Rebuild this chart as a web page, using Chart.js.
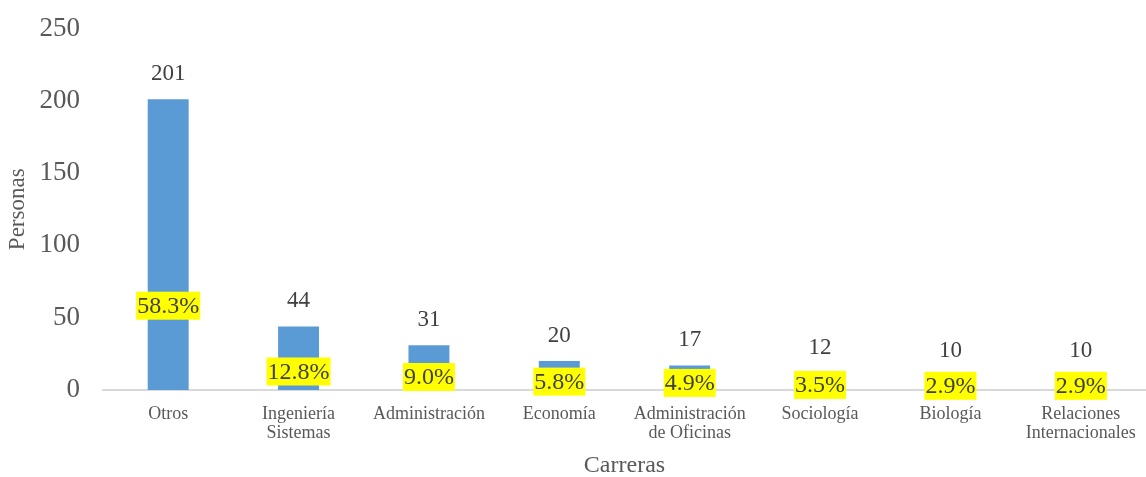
<!DOCTYPE html>
<html>
<head>
<meta charset="utf-8">
<script src="https://cdn.jsdelivr.net/npm/chart.js@4"></script>
<style>
  html, body { margin: 0; padding: 0; background: #fff; overflow: hidden; }
  #wrap { width: 1146px; height: 477px; }
</style>
</head>
<body>
<div id="wrap"><canvas id="chart"></canvas></div>
<script>
const carreras = ["Otros", ["Ingeniería", "Sistemas"], "Administración", "Economía",
  ["Administración", "de Oficinas"], "Sociología", "Biología", ["Relaciones", "Internacionales"]];
const personas = [201, 44, 31, 20, 17, 12, 10, 10];
const porcentajes = [58.3, 12.8, 9.0, 5.8, 4.9, 3.5, 2.9, 2.9];
const yTicks = [0, 50, 100, 150, 200, 250];

const serif = "'Liberation Serif', 'Times New Roman', serif";
const gris = "#595959";

// etiquetas: valor encima de la barra y porcentaje en caja amarilla
const etiquetas = {
  id: "etiquetas",
  afterDatasetsDraw(chart) {
    const ctx = chart.ctx;
    const meta = chart.getDatasetMeta(0);
    const y = chart.scales.y;
    ctx.save();
    ctx.textAlign = "center";
    ctx.textBaseline = "middle";
    meta.data.forEach((bar, i) => {
      ctx.font = "23px " + serif;
      ctx.fillStyle = "#404040";
      ctx.fillText(personas[i], bar.x, bar.y - 25);

      const txt = porcentajes[i].toFixed(1) + "%";
      ctx.font = "24px " + serif;
      const w = ctx.measureText(txt).width + 2;
      const py = y.getPixelForValue(porcentajes[i]);
      ctx.fillStyle = "#ffff00";
      ctx.fillRect(bar.x - w / 2, py - 14, w, 28);
      ctx.fillStyle = "#404040";
      ctx.fillText(txt, bar.x, py + 1);
    });
    ctx.restore();
  }
};

new Chart(document.getElementById("chart"), {
  type: "bar",
  data: {
    labels: carreras,
    datasets: [{
      data: personas,
      backgroundColor: "#5b9bd5",
      barPercentage: 0.314,
      categoryPercentage: 1
    }]
  },
  options: {
    responsive: true,
    maintainAspectRatio: false,
    animation: false,
    layout: { padding: { top: 0, right: 0, left: 0, bottom: 0 } },
    plugins: { legend: { display: false }, tooltip: { enabled: false } },
    scales: {
      y: {
        min: 0, max: 250,
        afterBuildTicks: s => { s.ticks = yTicks.map(v => ({ value: v })); },
        afterFit: s => { s.width = 103; },
        grid: { display: false },
        border: { display: false },
        ticks: { color: gris, font: { family: serif, size: 27, lineHeight: 1 }, padding: 15 },
        title: { display: true, text: "Personas", color: gris, font: { family: serif, size: 23 }, padding: { top: 4, bottom: 0 } }
      },
      x: {
        afterFit: s => { s.height = 87; },
        grid: { display: false },
        border: { display: true, color: "#d9d9d9", width: 2 },
        ticks: { color: gris, font: { family: serif, size: 18, lineHeight: 1.1 }, maxRotation: 0, autoSkip: false, padding: 6 },
        title: { display: true, text: "Carreras", color: gris, font: { family: serif, size: 24, lineHeight: 0.9 }, padding: { top: 4, bottom: 0 } }
      }
    }
  },
  plugins: [etiquetas]
});
</script>
</body>
</html>
